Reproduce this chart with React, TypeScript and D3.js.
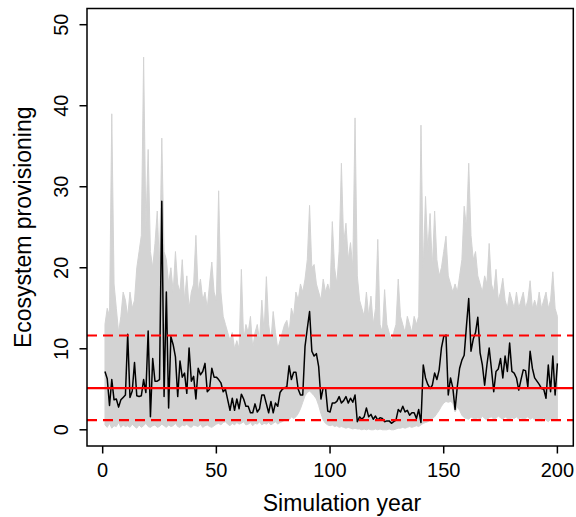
import React from "react";
import * as d3 from "d3";

const years: number[] = Array.from({ length: 200 }, (_, i) => i + 1);

const blackSeries: number[] = [
  7.2, 6.3, 3.0, 6.2, 3.7, 3.8, 2.8, 3.7, 4.0, 4.3,
  11.8, 4.0, 4.8, 8.3, 4.2, 4.1, 4.2, 6.2, 4.6, 12.2,
  1.6, 8.8, 6.0, 6.0, 6.2, 28.2, 4.1, 17.0, 2.7, 11.5,
  10.5, 9.0, 4.1, 8.5, 6.5, 7.0, 4.5, 10.1, 6.0, 6.6,
  3.8, 7.6, 6.8, 7.2, 8.2, 4.7, 5.0, 7.6, 6.5, 6.5,
  6.2, 5.8, 4.7, 5.0, 3.7, 2.4, 3.9, 2.4, 3.8, 2.6,
  4.4, 3.8, 2.9, 2.9, 2.1, 2.1, 3.2, 2.2, 2.6, 4.3,
  4.3, 3.2, 2.1, 3.5, 2.1, 3.3, 2.9, 4.6, 5.0, 5.2,
  5.3, 7.9, 6.2, 7.1, 7.1, 5.0, 4.3, 4.3, 10.3, 12.5,
  14.6, 9.7, 9.1, 9.4, 7.8, 3.8, 5.2, 5.2, 2.3, 2.2,
  3.3, 3.3, 3.5, 4.1, 3.3, 3.6, 4.1, 3.3, 3.9, 3.4,
  4.3, 1.0, 1.6, 1.3, 1.6, 2.7, 1.6, 1.9, 1.3, 1.7,
  1.2, 1.5, 1.4, 1.0, 1.1, 1.1, 0.8, 1.0, 1.2, 2.5,
  2.2, 2.9, 2.2, 2.4, 1.8, 2.1, 2.1, 1.4, 2.5, 0.9,
  8.0, 6.4, 5.6, 5.1, 5.5, 7.0, 6.2, 7.4, 10.1, 11.5,
  11.7, 4.3, 6.4, 5.2, 2.5, 5.4, 7.6, 8.6, 9.2, 12.8,
  16.2, 9.7, 11.2, 12.0, 13.9, 9.5, 8.0, 5.5, 8.0, 10.1,
  7.5, 4.7, 7.2, 7.5, 8.8, 6.4, 9.1, 7.2, 10.7, 7.2,
  7.0, 6.4, 4.9, 6.2, 7.4, 7.3, 5.3, 9.7, 7.6, 6.4,
  6.0, 5.6, 5.1, 5.0, 3.9, 8.0, 4.7, 9.1, 4.3, 8.2,
];

const grayUpper: number[] = [
  13, 15, 14, 39, 18, 15, 12, 14, 17, 16,
  14, 17, 15, 16, 20, 22, 24, 46, 25, 34.6,
  22, 20, 23, 27, 20, 36, 22, 21, 18, 20,
  17, 22, 18, 17, 21, 16, 19, 15, 17, 18,
  24, 17, 18.6, 16, 17, 15, 18, 20.7, 17, 16,
  29.5, 17, 14, 13, 12, 11, 12, 10, 11, 10,
  19.8, 11, 13, 12, 14, 10, 12, 13, 11, 16,
  12, 18.9, 13, 11, 14.6, 12, 10, 11, 12, 13,
  13.5, 12, 15, 14, 17, 16, 18, 17, 18.6, 21,
  27.7, 20, 20.4, 18, 17, 16, 18.6, 17, 18, 17,
  25.7, 20, 18, 22, 32.9, 23, 25.5, 21, 23.1, 20,
  38.5, 19, 16, 15, 14, 17, 14, 16.5, 13, 15,
  23.5, 13, 12, 17.3, 13, 12, 11, 12, 13, 18.6,
  14, 13, 12, 14, 13, 12, 14, 13, 14, 37.6,
  20, 28.8, 22, 26.7, 20, 27, 21, 19, 20, 22,
  23.9, 19, 18, 17, 18, 17, 19, 21, 27.6, 25,
  32.9, 24, 21, 22, 19, 18, 17, 19, 18, 23,
  18, 17, 19.8, 16, 17, 18.7, 16, 15, 17, 16,
  15, 17, 15, 16, 17, 15, 16, 18.4, 15, 16,
  15, 17, 15, 16, 17, 15, 16, 19.5, 15, 14,
];

const grayLower: number[] = [
  0.6, 0.3, 0.8, 0.2, 0.5, 0.4, 0.9, 0.3, 0.6, 0.4,
  0.5, 0.3, 0.7, 0.4, 0.2, 0.6, 0.3, 0.5, 0.8, 0.4,
  0.3, 0.5, 0.6, 0.3, 0.4, 0.7, 0.5, 0.3, 0.6, 0.4,
  0.5, 0.8, 0.4, 0.3, 0.6, 0.5, 0.7, 0.4, 0.3, 0.6,
  0.5, 0.4, 0.7, 0.3, 0.5, 0.6, 0.4, 0.3, 0.5, 0.7,
  0.8, 0.6, 0.9, 1.0, 0.7, 0.5, 0.8, 0.6, 0.9, 0.7,
  0.8, 1.0, 0.6, 0.7, 0.9, 0.5, 0.8, 0.7, 1.0, 0.6,
  0.8, 0.7, 0.9, 0.6, 0.8, 1.0, 0.7, 0.9, 1.0, 1.2,
  1.4, 1.2, 1.6, 1.4, 1.6, 2.0, 2.6, 3.4, 4.2, 4.6,
  4.8, 4.5, 4.2, 3.8, 3.0, 2.0, 1.2, 0.8, 0.6, 0.5,
  0.6, 0.4, 0.5, 0.3, 0.4, 0.3, 0.2, 0.3, 0.2, 0.1,
  0.2, 0.1, 0.1, 0.0, 0.1, 0.0, 0.1, 0.0, 0.0, 0.1,
  0.0, 0.1, 0.0, 0.0, 0.0, 0.1, 0.0, 0.0, 0.1, 0.2,
  0.2, 0.3, 0.2, 0.3, 0.4, 0.3, 0.4, 0.5, 0.4, 0.6,
  0.8, 0.9, 1.0, 1.2, 1.4, 1.6, 2.0, 2.4, 2.9, 3.3,
  3.5, 3.4, 3.5, 3.3, 2.2, 2.8, 2.4, 1.8, 1.5, 1.4,
  1.3, 1.6, 1.4, 1.2, 1.5, 1.3, 1.7, 1.4, 1.2, 1.5,
  1.6, 1.3, 1.4, 1.7, 1.5, 1.3, 1.6, 1.4, 1.2, 1.5,
  1.4, 1.6, 1.3, 1.5, 1.2, 1.4, 1.6, 1.3, 1.5, 1.2,
  1.4, 1.3, 1.1, 1.5, 1.2, 1.0, 1.3, 1.2, 1.4, 1.3,
];

const xTicks: number[] = [0, 50, 100, 150, 200];
const yTicks: number[] = [0, 10, 20, 30, 40, 50];
const meanLevel = 5.15;
const bandLevels: number[] = [11.64, 1.2];
const xTitle = "Simulation year";
const yTitle = "Ecosystem provisioning";

export default function App() {
  const W = 576;
  const H = 517;
  const left = 87, right = 573.3, top = 8.5, bottom = 446;
  const x = d3.scaleLinear().domain([-6.9, 207]).range([left, right]);
  const y = d3.scaleLinear().domain([-2, 52]).range([bottom, top]);

  const area = d3
    .area<number>()
    .x((_, i) => x(years[i]))
    .y0((_, i) => y(grayLower[i]))
    .y1((_, i) => y(grayUpper[i]));
  const line = d3
    .line<number>()
    .x((_, i) => x(years[i]))
    .y((d) => y(d));

  const font = "'Liberation Sans', Arial, Helvetica, sans-serif";

  return (
    <svg
      width={W}
      height={H}
      style={{ position: "absolute", left: 0, top: 0, background: "#fff" }}
      fontFamily={font}
    >
      <defs>
        <clipPath id="plotclip">
          <rect x={left} y={top} width={right - left} height={bottom - top} />
        </clipPath>
      </defs>
      <g clipPath="url(#plotclip)">
        <path d={area(grayUpper) || ""} fill="#d3d3d3" stroke="#d3d3d3" strokeWidth={1} />
        <path d={line(blackSeries) || ""} fill="none" stroke="#000" strokeWidth={1.5} strokeLinejoin="round" />
        <line x1={left} x2={right} y1={y(meanLevel)} y2={y(meanLevel)} stroke="#ff0000" strokeWidth={2.2} />
        {bandLevels.map((b) => (
          <line key={b} x1={left} x2={right} y1={y(b)} y2={y(b)} stroke="#ff0000" strokeWidth={2.2} strokeDasharray="10,6" />
        ))}
      </g>
      <rect x={left} y={top} width={right - left} height={bottom - top} fill="none" stroke="#000" strokeWidth={1.5} />
      {xTicks.map((t) => (
        <g key={t}>
          <line x1={x(t)} x2={x(t)} y1={bottom} y2={bottom + 7.5} stroke="#000" strokeWidth={1.5} />
          <text x={x(t)} y={477} fontSize={20} textAnchor="middle" fill="#000">{t}</text>
        </g>
      ))}
      {yTicks.map((t) => (
        <g key={t}>
          <line x1={left - 7.5} x2={left} y1={y(t)} y2={y(t)} stroke="#000" strokeWidth={1.5} />
          <text
            transform={`translate(68,${y(t)}) rotate(-90)`}
            fontSize={20}
            textAnchor="middle"
            fill="#000"
          >
            {t}
          </text>
        </g>
      ))}
      <text x={342} y={511} fontSize={23} textAnchor="middle" fill="#000">{xTitle}</text>
      <text transform={`translate(31,${(top + bottom) / 2}) rotate(-90)`} fontSize={23} textAnchor="middle" fill="#000">
        {yTitle}
      </text>
    </svg>
  );
}
